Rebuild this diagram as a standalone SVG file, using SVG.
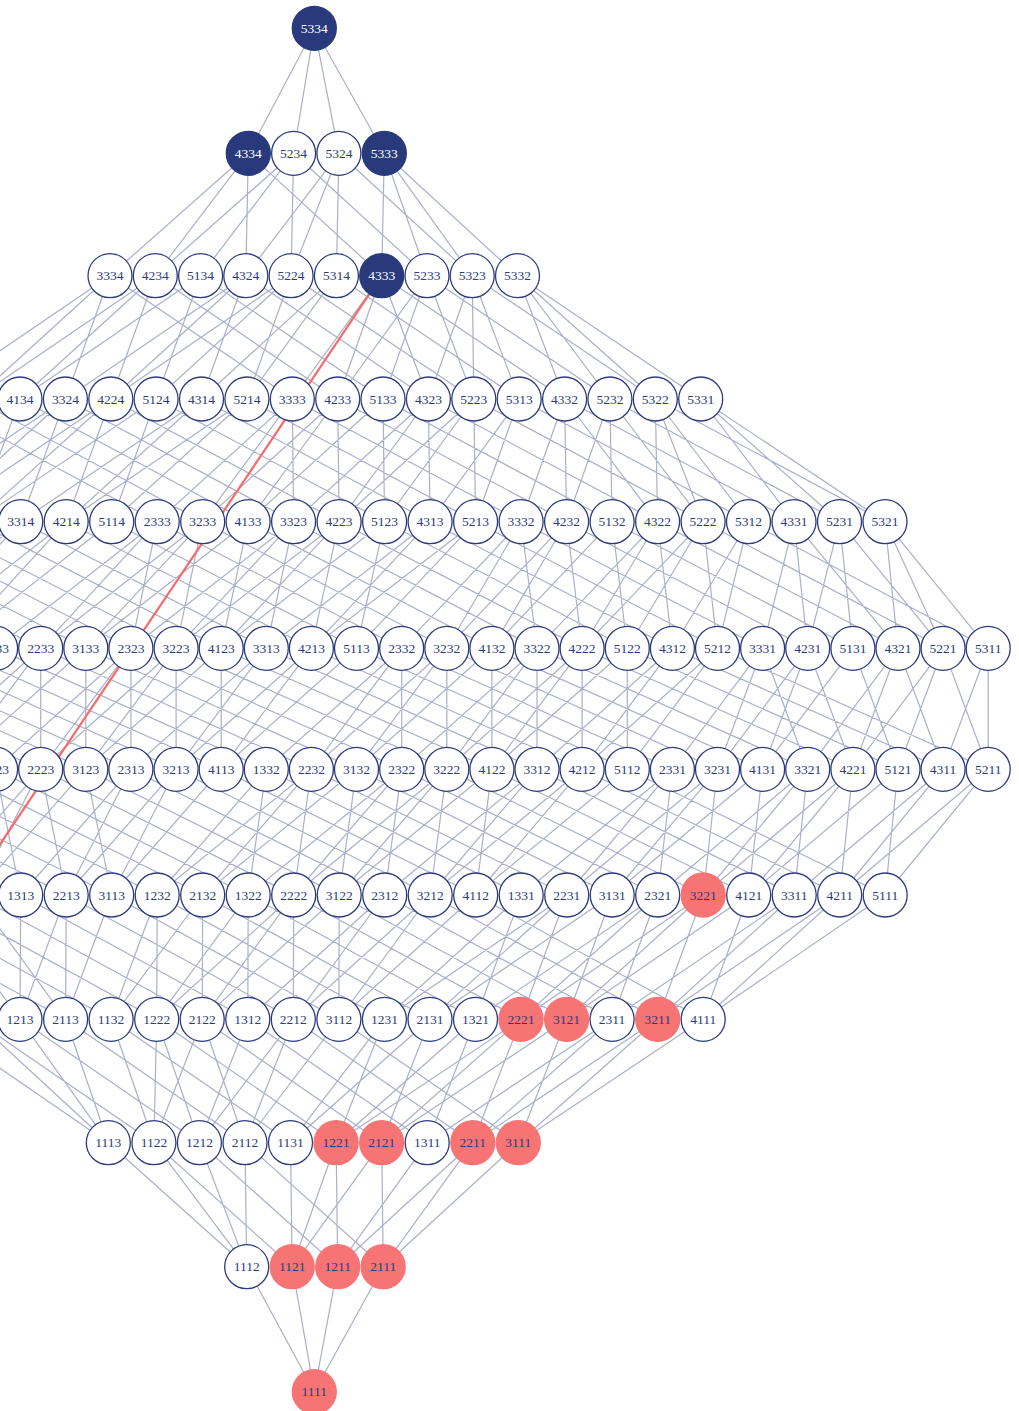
<svg xmlns="http://www.w3.org/2000/svg" width="1019" height="1411" viewBox="0 0 1019 1411">
<style>
.e{fill:none;stroke:#a9b0c9;stroke-width:1.2}
.hl{fill:none;stroke:#f36b6b;stroke-width:2.2}
.n circle{fill:#fff;stroke:#2c3b7d;stroke-width:1.3}
.n text{font-family:"Liberation Serif","DejaVu Serif",serif;font-size:13.5px;fill:#2c3b7d;text-anchor:middle}
.n.d circle{fill:#283a7c;stroke:#283a7c}
.n.d text{fill:#fff}
.n.r circle{fill:#f77474;stroke:#f77474}
</style>
<rect width="1019" height="1411" fill="#fff"/>
<g id="connectors">
<path class="e" d="M314.3 28.3L248.3 153.3M314.3 28.3L293.6 153.3M314.3 28.3L338.9 153.3M314.3 28.3L384.3 153.3"/>
<path class="e" d="M248.3 153.3L110 275.7M248.3 153.3L155.3 275.7M248.3 153.3L245.8 275.7M248.3 153.3L381.7 275.7M293.6 153.3L155.3 275.7M293.6 153.3L200.6 275.7M293.6 153.3L291.1 275.7M293.6 153.3L427 275.7M338.9 153.3L245.8 275.7M338.9 153.3L291.1 275.7M338.9 153.3L336.4 275.7M338.9 153.3L472.2 275.7M384.3 153.3L381.7 275.7M384.3 153.3L427 275.7M384.3 153.3L472.2 275.7M384.3 153.3L517.5 275.7"/>
<path class="e" d="M110 275.7L-70.8 399M110 275.7L-25.4 399M110 275.7L65.4 399M110 275.7L292.3 399M155.3 275.7L-25.4 399M155.3 275.7L20 399M155.3 275.7L110.8 399M155.3 275.7L337.7 399M200.6 275.7L20 399M200.6 275.7L156.1 399M200.6 275.7L383 399M245.8 275.7L65.4 399M245.8 275.7L110.8 399M245.8 275.7L201.5 399M245.8 275.7L428.4 399M291.1 275.7L110.8 399M291.1 275.7L156.1 399M291.1 275.7L246.9 399M291.1 275.7L473.8 399M336.4 275.7L201.5 399M336.4 275.7L246.9 399M336.4 275.7L519.2 399M381.7 275.7L292.3 399M381.7 275.7L337.7 399M381.7 275.7L428.4 399M381.7 275.7L564.6 399M427 275.7L337.7 399M427 275.7L383 399M427 275.7L473.8 399M427 275.7L609.9 399M472.2 275.7L428.4 399M472.2 275.7L473.8 399M472.2 275.7L519.2 399M472.2 275.7L655.3 399M517.5 275.7L564.6 399M517.5 275.7L609.9 399M517.5 275.7L655.3 399M517.5 275.7L700.7 399"/>
<path class="e" d="M-70.8 399L157.2 521.7M-25.4 399L202.7 521.7M20 399L-161.3 521.7M20 399L-24.8 521.7M20 399L248.1 521.7M65.4 399L-115.8 521.7M65.4 399L-70.3 521.7M65.4 399L20.7 521.7M65.4 399L293.6 521.7M110.8 399L-70.3 521.7M110.8 399L-24.8 521.7M110.8 399L66.2 521.7M110.8 399L339.1 521.7M156.1 399L-24.8 521.7M156.1 399L111.7 521.7M156.1 399L384.6 521.7M201.5 399L20.7 521.7M201.5 399L66.2 521.7M201.5 399L430.1 521.7M246.9 399L66.2 521.7M246.9 399L111.7 521.7M246.9 399L475.6 521.7M292.3 399L157.2 521.7M292.3 399L202.7 521.7M292.3 399L293.6 521.7M292.3 399L521.1 521.7M337.7 399L202.7 521.7M337.7 399L248.1 521.7M337.7 399L339.1 521.7M337.7 399L566.6 521.7M383 399L248.1 521.7M383 399L384.6 521.7M383 399L612.1 521.7M428.4 399L293.6 521.7M428.4 399L339.1 521.7M428.4 399L430.1 521.7M428.4 399L657.6 521.7M473.8 399L339.1 521.7M473.8 399L384.6 521.7M473.8 399L475.6 521.7M473.8 399L703.1 521.7M519.2 399L430.1 521.7M519.2 399L475.6 521.7M519.2 399L748.5 521.7M564.6 399L521.1 521.7M564.6 399L566.6 521.7M564.6 399L657.6 521.7M564.6 399L794 521.7M609.9 399L566.6 521.7M609.9 399L612.1 521.7M609.9 399L703.1 521.7M609.9 399L839.5 521.7M655.3 399L657.6 521.7M655.3 399L703.1 521.7M655.3 399L748.5 521.7M655.3 399L885 521.7M700.7 399L794 521.7M700.7 399L839.5 521.7M700.7 399L885 521.7"/>
<path class="e" d="M-206.8 521.7L40.7 648.3M-161.3 521.7L85.8 648.3M-115.8 521.7L130.9 648.3M-70.3 521.7L176.1 648.3M-24.8 521.7L221.2 648.3M20.7 521.7L-139.8 648.3M20.7 521.7L-94.7 648.3M20.7 521.7L266.3 648.3M66.2 521.7L-94.7 648.3M66.2 521.7L-49.5 648.3M66.2 521.7L311.4 648.3M111.7 521.7L-49.5 648.3M111.7 521.7L356.5 648.3M157.2 521.7L-4.4 648.3M157.2 521.7L40.7 648.3M157.2 521.7L130.9 648.3M157.2 521.7L401.7 648.3M202.7 521.7L40.7 648.3M202.7 521.7L85.8 648.3M202.7 521.7L176.1 648.3M202.7 521.7L446.8 648.3M248.1 521.7L85.8 648.3M248.1 521.7L221.2 648.3M248.1 521.7L491.9 648.3M293.6 521.7L130.9 648.3M293.6 521.7L176.1 648.3M293.6 521.7L266.3 648.3M293.6 521.7L537 648.3M339.1 521.7L176.1 648.3M339.1 521.7L221.2 648.3M339.1 521.7L311.4 648.3M339.1 521.7L582.1 648.3M384.6 521.7L221.2 648.3M384.6 521.7L356.5 648.3M384.6 521.7L627.3 648.3M430.1 521.7L266.3 648.3M430.1 521.7L311.4 648.3M430.1 521.7L672.4 648.3M475.6 521.7L311.4 648.3M475.6 521.7L356.5 648.3M475.6 521.7L717.5 648.3M521.1 521.7L401.7 648.3M521.1 521.7L446.8 648.3M521.1 521.7L537 648.3M521.1 521.7L762.6 648.3M566.6 521.7L446.8 648.3M566.6 521.7L491.9 648.3M566.6 521.7L582.1 648.3M566.6 521.7L807.7 648.3M612.1 521.7L491.9 648.3M612.1 521.7L627.3 648.3M612.1 521.7L852.9 648.3M657.6 521.7L537 648.3M657.6 521.7L582.1 648.3M657.6 521.7L672.4 648.3M657.6 521.7L898 648.3M703.1 521.7L582.1 648.3M703.1 521.7L627.3 648.3M703.1 521.7L717.5 648.3M703.1 521.7L943.1 648.3M748.5 521.7L672.4 648.3M748.5 521.7L717.5 648.3M748.5 521.7L988.2 648.3M794 521.7L762.6 648.3M794 521.7L807.7 648.3M794 521.7L898 648.3M839.5 521.7L807.7 648.3M839.5 521.7L852.9 648.3M839.5 521.7L943.1 648.3M885 521.7L898 648.3M885 521.7L943.1 648.3M885 521.7L988.2 648.3"/>
<path class="e" d="M-230 648.3L40.7 769.3M-184.9 648.3L85.8 769.3M-139.8 648.3L130.9 769.3M-94.7 648.3L176.1 769.3M-49.5 648.3L221.2 769.3M-4.4 648.3L266.3 769.3M40.7 648.3L-94.7 769.3M40.7 648.3L-49.5 769.3M40.7 648.3L40.7 769.3M40.7 648.3L311.4 769.3M85.8 648.3L-49.5 769.3M85.8 648.3L85.8 769.3M85.8 648.3L356.5 769.3M130.9 648.3L-4.4 769.3M130.9 648.3L40.7 769.3M130.9 648.3L130.9 769.3M130.9 648.3L401.7 769.3M176.1 648.3L40.7 769.3M176.1 648.3L85.8 769.3M176.1 648.3L176.1 769.3M176.1 648.3L446.8 769.3M221.2 648.3L85.8 769.3M221.2 648.3L221.2 769.3M221.2 648.3L491.9 769.3M266.3 648.3L130.9 769.3M266.3 648.3L176.1 769.3M266.3 648.3L537 769.3M311.4 648.3L176.1 769.3M311.4 648.3L221.2 769.3M311.4 648.3L582.1 769.3M356.5 648.3L221.2 769.3M356.5 648.3L627.3 769.3M401.7 648.3L266.3 769.3M401.7 648.3L311.4 769.3M401.7 648.3L401.7 769.3M401.7 648.3L672.4 769.3M446.8 648.3L311.4 769.3M446.8 648.3L356.5 769.3M446.8 648.3L446.8 769.3M446.8 648.3L717.5 769.3M491.9 648.3L356.5 769.3M491.9 648.3L491.9 769.3M491.9 648.3L762.6 769.3M537 648.3L401.7 769.3M537 648.3L446.8 769.3M537 648.3L537 769.3M537 648.3L807.7 769.3M582.1 648.3L446.8 769.3M582.1 648.3L491.9 769.3M582.1 648.3L582.1 769.3M582.1 648.3L852.9 769.3M627.3 648.3L491.9 769.3M627.3 648.3L627.3 769.3M627.3 648.3L898 769.3M672.4 648.3L537 769.3M672.4 648.3L582.1 769.3M672.4 648.3L943.1 769.3M717.5 648.3L582.1 769.3M717.5 648.3L627.3 769.3M717.5 648.3L988.2 769.3M762.6 648.3L672.4 769.3M762.6 648.3L717.5 769.3M762.6 648.3L807.7 769.3M807.7 648.3L717.5 769.3M807.7 648.3L762.6 769.3M807.7 648.3L852.9 769.3M852.9 648.3L762.6 769.3M852.9 648.3L898 769.3M898 648.3L807.7 769.3M898 648.3L852.9 769.3M898 648.3L943.1 769.3M943.1 648.3L852.9 769.3M943.1 648.3L898 769.3M943.1 648.3L988.2 769.3M988.2 648.3L943.1 769.3M988.2 648.3L988.2 769.3"/>
<path class="e" d="M-230 769.3L20.7 895M-184.9 769.3L66.2 895M-139.8 769.3L111.7 895M-94.7 769.3L157.2 895M-49.5 769.3L202.7 895M-4.4 769.3L20.7 895M-4.4 769.3L248.2 895M40.7 769.3L-70.3 895M40.7 769.3L-24.8 895M40.7 769.3L66.2 895M40.7 769.3L293.7 895M85.8 769.3L-24.8 895M85.8 769.3L111.7 895M85.8 769.3L339.2 895M130.9 769.3L20.7 895M130.9 769.3L66.2 895M130.9 769.3L384.7 895M176.1 769.3L66.2 895M176.1 769.3L111.7 895M176.1 769.3L430.2 895M221.2 769.3L111.7 895M221.2 769.3L475.7 895M266.3 769.3L157.2 895M266.3 769.3L248.2 895M266.3 769.3L521.2 895M311.4 769.3L157.2 895M311.4 769.3L202.7 895M311.4 769.3L293.7 895M311.4 769.3L566.7 895M356.5 769.3L202.7 895M356.5 769.3L339.2 895M356.5 769.3L612.2 895M401.7 769.3L248.2 895M401.7 769.3L293.7 895M401.7 769.3L384.7 895M401.7 769.3L657.7 895M446.8 769.3L293.7 895M446.8 769.3L339.2 895M446.8 769.3L430.2 895M446.8 769.3L703.2 895M491.9 769.3L339.2 895M491.9 769.3L475.7 895M491.9 769.3L748.7 895M537 769.3L384.7 895M537 769.3L430.2 895M537 769.3L794.2 895M582.1 769.3L430.2 895M582.1 769.3L475.7 895M582.1 769.3L839.7 895M627.3 769.3L475.7 895M627.3 769.3L885.2 895M672.4 769.3L521.2 895M672.4 769.3L566.7 895M672.4 769.3L657.7 895M717.5 769.3L566.7 895M717.5 769.3L612.2 895M717.5 769.3L703.2 895M762.6 769.3L612.2 895M762.6 769.3L748.7 895M807.7 769.3L657.7 895M807.7 769.3L703.2 895M807.7 769.3L794.2 895M852.9 769.3L703.2 895M852.9 769.3L748.7 895M852.9 769.3L839.7 895M898 769.3L748.7 895M898 769.3L885.2 895M943.1 769.3L794.2 895M943.1 769.3L839.7 895M988.2 769.3L839.7 895M988.2 769.3L885.2 895"/>
<path class="e" d="M-206.8 895L20 1019.3M-161.3 895L65.6 1019.3M-115.8 895L111.1 1019.3M-70.3 895L20 1019.3M-70.3 895L156.7 1019.3M-24.8 895L65.6 1019.3M-24.8 895L202.2 1019.3M20.7 895L20 1019.3M20.7 895L247.8 1019.3M66.2 895L20 1019.3M66.2 895L65.6 1019.3M66.2 895L293.3 1019.3M111.7 895L65.6 1019.3M111.7 895L338.9 1019.3M157.2 895L111.1 1019.3M157.2 895L156.7 1019.3M157.2 895L384.4 1019.3M202.7 895L111.1 1019.3M202.7 895L202.2 1019.3M202.7 895L430 1019.3M248.2 895L156.7 1019.3M248.2 895L247.8 1019.3M248.2 895L475.5 1019.3M293.7 895L156.7 1019.3M293.7 895L202.2 1019.3M293.7 895L293.3 1019.3M293.7 895L521 1019.3M339.2 895L202.2 1019.3M339.2 895L338.9 1019.3M339.2 895L566.6 1019.3M384.7 895L247.8 1019.3M384.7 895L293.3 1019.3M384.7 895L612.1 1019.3M430.2 895L293.3 1019.3M430.2 895L338.9 1019.3M430.2 895L657.7 1019.3M475.7 895L338.9 1019.3M475.7 895L703.2 1019.3M521.2 895L384.4 1019.3M521.2 895L475.5 1019.3M566.7 895L384.4 1019.3M566.7 895L430 1019.3M566.7 895L521 1019.3M612.2 895L430 1019.3M612.2 895L566.6 1019.3M657.7 895L475.5 1019.3M657.7 895L521 1019.3M657.7 895L612.1 1019.3M703.2 895L521 1019.3M703.2 895L566.6 1019.3M703.2 895L657.7 1019.3M748.7 895L566.6 1019.3M748.7 895L703.2 1019.3M794.2 895L612.1 1019.3M794.2 895L657.7 1019.3M839.7 895L657.7 1019.3M839.7 895L703.2 1019.3M885.2 895L703.2 1019.3"/>
<path class="e" d="M-71.1 1019.3L108.3 1142.7M-25.6 1019.3L108.3 1142.7M-25.6 1019.3L153.9 1142.7M20 1019.3L108.3 1142.7M20 1019.3L199.4 1142.7M65.6 1019.3L108.3 1142.7M65.6 1019.3L245 1142.7M111.1 1019.3L153.9 1142.7M111.1 1019.3L290.5 1142.7M156.7 1019.3L153.9 1142.7M156.7 1019.3L199.4 1142.7M156.7 1019.3L336.1 1142.7M202.2 1019.3L153.9 1142.7M202.2 1019.3L245 1142.7M202.2 1019.3L381.7 1142.7M247.8 1019.3L199.4 1142.7M247.8 1019.3L427.2 1142.7M293.3 1019.3L199.4 1142.7M293.3 1019.3L245 1142.7M293.3 1019.3L472.8 1142.7M338.9 1019.3L245 1142.7M338.9 1019.3L518.3 1142.7M384.4 1019.3L290.5 1142.7M384.4 1019.3L336.1 1142.7M430 1019.3L290.5 1142.7M430 1019.3L381.7 1142.7M475.5 1019.3L336.1 1142.7M475.5 1019.3L427.2 1142.7M521 1019.3L336.1 1142.7M521 1019.3L381.7 1142.7M521 1019.3L472.8 1142.7M566.6 1019.3L381.7 1142.7M566.6 1019.3L518.3 1142.7M612.1 1019.3L427.2 1142.7M612.1 1019.3L472.8 1142.7M657.7 1019.3L472.8 1142.7M657.7 1019.3L518.3 1142.7M703.2 1019.3L518.3 1142.7"/>
<path class="e" d="M108.3 1142.7L246.7 1266.7M153.9 1142.7L246.7 1266.7M153.9 1142.7L292.2 1266.7M199.4 1142.7L246.7 1266.7M199.4 1142.7L337.7 1266.7M245 1142.7L246.7 1266.7M245 1142.7L383.2 1266.7M290.5 1142.7L292.2 1266.7M336.1 1142.7L292.2 1266.7M336.1 1142.7L337.7 1266.7M381.7 1142.7L292.2 1266.7M381.7 1142.7L383.2 1266.7M427.2 1142.7L337.7 1266.7M472.8 1142.7L337.7 1266.7M472.8 1142.7L383.2 1266.7M518.3 1142.7L383.2 1266.7"/>
<path class="e" d="M246.7 1266.7L314.3 1391.7M292.2 1266.7L314.3 1391.7M337.7 1266.7L314.3 1391.7M383.2 1266.7L314.3 1391.7"/>
<path class="hl" d="M381.7 275.7L-34 895"/>
</g>
<g id="nodes">
<g id="n5334" class="n d" transform="translate(314.3 28.3)"><circle r="22"/><text y="4.6">5334</text></g>
<g id="n4334" class="n d" transform="translate(248.3 153.3)"><circle r="22"/><text y="4.6">4334</text></g>
<g id="n5234" class="n" transform="translate(293.6 153.3)"><circle r="22"/><text y="4.6">5234</text></g>
<g id="n5324" class="n" transform="translate(338.9 153.3)"><circle r="22"/><text y="4.6">5324</text></g>
<g id="n5333" class="n d" transform="translate(384.3 153.3)"><circle r="22"/><text y="4.6">5333</text></g>
<g id="n3334" class="n" transform="translate(110 275.7)"><circle r="22"/><text y="4.6">3334</text></g>
<g id="n4234" class="n" transform="translate(155.3 275.7)"><circle r="22"/><text y="4.6">4234</text></g>
<g id="n5134" class="n" transform="translate(200.6 275.7)"><circle r="22"/><text y="4.6">5134</text></g>
<g id="n4324" class="n" transform="translate(245.8 275.7)"><circle r="22"/><text y="4.6">4324</text></g>
<g id="n5224" class="n" transform="translate(291.1 275.7)"><circle r="22"/><text y="4.6">5224</text></g>
<g id="n5314" class="n" transform="translate(336.4 275.7)"><circle r="22"/><text y="4.6">5314</text></g>
<g id="n4333" class="n d" transform="translate(381.7 275.7)"><circle r="22"/><text y="4.6">4333</text></g>
<g id="n5233" class="n" transform="translate(427 275.7)"><circle r="22"/><text y="4.6">5233</text></g>
<g id="n5323" class="n" transform="translate(472.2 275.7)"><circle r="22"/><text y="4.6">5323</text></g>
<g id="n5332" class="n" transform="translate(517.5 275.7)"><circle r="22"/><text y="4.6">5332</text></g>
<g id="n4134" class="n" transform="translate(20 399)"><circle r="22"/><text y="4.6">4134</text></g>
<g id="n3324" class="n" transform="translate(65.4 399)"><circle r="22"/><text y="4.6">3324</text></g>
<g id="n4224" class="n" transform="translate(110.8 399)"><circle r="22"/><text y="4.6">4224</text></g>
<g id="n5124" class="n" transform="translate(156.1 399)"><circle r="22"/><text y="4.6">5124</text></g>
<g id="n4314" class="n" transform="translate(201.5 399)"><circle r="22"/><text y="4.6">4314</text></g>
<g id="n5214" class="n" transform="translate(246.9 399)"><circle r="22"/><text y="4.6">5214</text></g>
<g id="n3333" class="n" transform="translate(292.3 399)"><circle r="22"/><text y="4.6">3333</text></g>
<g id="n4233" class="n" transform="translate(337.7 399)"><circle r="22"/><text y="4.6">4233</text></g>
<g id="n5133" class="n" transform="translate(383 399)"><circle r="22"/><text y="4.6">5133</text></g>
<g id="n4323" class="n" transform="translate(428.4 399)"><circle r="22"/><text y="4.6">4323</text></g>
<g id="n5223" class="n" transform="translate(473.8 399)"><circle r="22"/><text y="4.6">5223</text></g>
<g id="n5313" class="n" transform="translate(519.2 399)"><circle r="22"/><text y="4.6">5313</text></g>
<g id="n4332" class="n" transform="translate(564.6 399)"><circle r="22"/><text y="4.6">4332</text></g>
<g id="n5232" class="n" transform="translate(609.9 399)"><circle r="22"/><text y="4.6">5232</text></g>
<g id="n5322" class="n" transform="translate(655.3 399)"><circle r="22"/><text y="4.6">5322</text></g>
<g id="n5331" class="n" transform="translate(700.7 399)"><circle r="22"/><text y="4.6">5331</text></g>
<g id="n3314" class="n" transform="translate(20.7 521.7)"><circle r="22"/><text y="4.6">3314</text></g>
<g id="n4214" class="n" transform="translate(66.2 521.7)"><circle r="22"/><text y="4.6">4214</text></g>
<g id="n5114" class="n" transform="translate(111.7 521.7)"><circle r="22"/><text y="4.6">5114</text></g>
<g id="n2333" class="n" transform="translate(157.2 521.7)"><circle r="22"/><text y="4.6">2333</text></g>
<g id="n3233" class="n" transform="translate(202.7 521.7)"><circle r="22"/><text y="4.6">3233</text></g>
<g id="n4133" class="n" transform="translate(248.1 521.7)"><circle r="22"/><text y="4.6">4133</text></g>
<g id="n3323" class="n" transform="translate(293.6 521.7)"><circle r="22"/><text y="4.6">3323</text></g>
<g id="n4223" class="n" transform="translate(339.1 521.7)"><circle r="22"/><text y="4.6">4223</text></g>
<g id="n5123" class="n" transform="translate(384.6 521.7)"><circle r="22"/><text y="4.6">5123</text></g>
<g id="n4313" class="n" transform="translate(430.1 521.7)"><circle r="22"/><text y="4.6">4313</text></g>
<g id="n5213" class="n" transform="translate(475.6 521.7)"><circle r="22"/><text y="4.6">5213</text></g>
<g id="n3332" class="n" transform="translate(521.1 521.7)"><circle r="22"/><text y="4.6">3332</text></g>
<g id="n4232" class="n" transform="translate(566.6 521.7)"><circle r="22"/><text y="4.6">4232</text></g>
<g id="n5132" class="n" transform="translate(612.1 521.7)"><circle r="22"/><text y="4.6">5132</text></g>
<g id="n4322" class="n" transform="translate(657.6 521.7)"><circle r="22"/><text y="4.6">4322</text></g>
<g id="n5222" class="n" transform="translate(703.1 521.7)"><circle r="22"/><text y="4.6">5222</text></g>
<g id="n5312" class="n" transform="translate(748.5 521.7)"><circle r="22"/><text y="4.6">5312</text></g>
<g id="n4331" class="n" transform="translate(794 521.7)"><circle r="22"/><text y="4.6">4331</text></g>
<g id="n5231" class="n" transform="translate(839.5 521.7)"><circle r="22"/><text y="4.6">5231</text></g>
<g id="n5321" class="n" transform="translate(885 521.7)"><circle r="22"/><text y="4.6">5321</text></g>
<g id="n1333" class="n" transform="translate(-4.4 648.3)"><circle r="22"/><text y="4.6">1333</text></g>
<g id="n2233" class="n" transform="translate(40.7 648.3)"><circle r="22"/><text y="4.6">2233</text></g>
<g id="n3133" class="n" transform="translate(85.8 648.3)"><circle r="22"/><text y="4.6">3133</text></g>
<g id="n2323" class="n" transform="translate(130.9 648.3)"><circle r="22"/><text y="4.6">2323</text></g>
<g id="n3223" class="n" transform="translate(176.1 648.3)"><circle r="22"/><text y="4.6">3223</text></g>
<g id="n4123" class="n" transform="translate(221.2 648.3)"><circle r="22"/><text y="4.6">4123</text></g>
<g id="n3313" class="n" transform="translate(266.3 648.3)"><circle r="22"/><text y="4.6">3313</text></g>
<g id="n4213" class="n" transform="translate(311.4 648.3)"><circle r="22"/><text y="4.6">4213</text></g>
<g id="n5113" class="n" transform="translate(356.5 648.3)"><circle r="22"/><text y="4.6">5113</text></g>
<g id="n2332" class="n" transform="translate(401.7 648.3)"><circle r="22"/><text y="4.6">2332</text></g>
<g id="n3232" class="n" transform="translate(446.8 648.3)"><circle r="22"/><text y="4.6">3232</text></g>
<g id="n4132" class="n" transform="translate(491.9 648.3)"><circle r="22"/><text y="4.6">4132</text></g>
<g id="n3322" class="n" transform="translate(537 648.3)"><circle r="22"/><text y="4.6">3322</text></g>
<g id="n4222" class="n" transform="translate(582.1 648.3)"><circle r="22"/><text y="4.6">4222</text></g>
<g id="n5122" class="n" transform="translate(627.3 648.3)"><circle r="22"/><text y="4.6">5122</text></g>
<g id="n4312" class="n" transform="translate(672.4 648.3)"><circle r="22"/><text y="4.6">4312</text></g>
<g id="n5212" class="n" transform="translate(717.5 648.3)"><circle r="22"/><text y="4.6">5212</text></g>
<g id="n3331" class="n" transform="translate(762.6 648.3)"><circle r="22"/><text y="4.6">3331</text></g>
<g id="n4231" class="n" transform="translate(807.7 648.3)"><circle r="22"/><text y="4.6">4231</text></g>
<g id="n5131" class="n" transform="translate(852.9 648.3)"><circle r="22"/><text y="4.6">5131</text></g>
<g id="n4321" class="n" transform="translate(898 648.3)"><circle r="22"/><text y="4.6">4321</text></g>
<g id="n5221" class="n" transform="translate(943.1 648.3)"><circle r="22"/><text y="4.6">5221</text></g>
<g id="n5311" class="n" transform="translate(988.2 648.3)"><circle r="22"/><text y="4.6">5311</text></g>
<g id="n1323" class="n" transform="translate(-4.4 769.3)"><circle r="22"/><text y="4.6">1323</text></g>
<g id="n2223" class="n" transform="translate(40.7 769.3)"><circle r="22"/><text y="4.6">2223</text></g>
<g id="n3123" class="n" transform="translate(85.8 769.3)"><circle r="22"/><text y="4.6">3123</text></g>
<g id="n2313" class="n" transform="translate(130.9 769.3)"><circle r="22"/><text y="4.6">2313</text></g>
<g id="n3213" class="n" transform="translate(176.1 769.3)"><circle r="22"/><text y="4.6">3213</text></g>
<g id="n4113" class="n" transform="translate(221.2 769.3)"><circle r="22"/><text y="4.6">4113</text></g>
<g id="n1332" class="n" transform="translate(266.3 769.3)"><circle r="22"/><text y="4.6">1332</text></g>
<g id="n2232" class="n" transform="translate(311.4 769.3)"><circle r="22"/><text y="4.6">2232</text></g>
<g id="n3132" class="n" transform="translate(356.5 769.3)"><circle r="22"/><text y="4.6">3132</text></g>
<g id="n2322" class="n" transform="translate(401.7 769.3)"><circle r="22"/><text y="4.6">2322</text></g>
<g id="n3222" class="n" transform="translate(446.8 769.3)"><circle r="22"/><text y="4.6">3222</text></g>
<g id="n4122" class="n" transform="translate(491.9 769.3)"><circle r="22"/><text y="4.6">4122</text></g>
<g id="n3312" class="n" transform="translate(537 769.3)"><circle r="22"/><text y="4.6">3312</text></g>
<g id="n4212" class="n" transform="translate(582.1 769.3)"><circle r="22"/><text y="4.6">4212</text></g>
<g id="n5112" class="n" transform="translate(627.3 769.3)"><circle r="22"/><text y="4.6">5112</text></g>
<g id="n2331" class="n" transform="translate(672.4 769.3)"><circle r="22"/><text y="4.6">2331</text></g>
<g id="n3231" class="n" transform="translate(717.5 769.3)"><circle r="22"/><text y="4.6">3231</text></g>
<g id="n4131" class="n" transform="translate(762.6 769.3)"><circle r="22"/><text y="4.6">4131</text></g>
<g id="n3321" class="n" transform="translate(807.7 769.3)"><circle r="22"/><text y="4.6">3321</text></g>
<g id="n4221" class="n" transform="translate(852.9 769.3)"><circle r="22"/><text y="4.6">4221</text></g>
<g id="n5121" class="n" transform="translate(898 769.3)"><circle r="22"/><text y="4.6">5121</text></g>
<g id="n4311" class="n" transform="translate(943.1 769.3)"><circle r="22"/><text y="4.6">4311</text></g>
<g id="n5211" class="n" transform="translate(988.2 769.3)"><circle r="22"/><text y="4.6">5211</text></g>
<g id="n1313" class="n" transform="translate(20.7 895)"><circle r="22"/><text y="4.6">1313</text></g>
<g id="n2213" class="n" transform="translate(66.2 895)"><circle r="22"/><text y="4.6">2213</text></g>
<g id="n3113" class="n" transform="translate(111.7 895)"><circle r="22"/><text y="4.6">3113</text></g>
<g id="n1232" class="n" transform="translate(157.2 895)"><circle r="22"/><text y="4.6">1232</text></g>
<g id="n2132" class="n" transform="translate(202.7 895)"><circle r="22"/><text y="4.6">2132</text></g>
<g id="n1322" class="n" transform="translate(248.2 895)"><circle r="22"/><text y="4.6">1322</text></g>
<g id="n2222" class="n" transform="translate(293.7 895)"><circle r="22"/><text y="4.6">2222</text></g>
<g id="n3122" class="n" transform="translate(339.2 895)"><circle r="22"/><text y="4.6">3122</text></g>
<g id="n2312" class="n" transform="translate(384.7 895)"><circle r="22"/><text y="4.6">2312</text></g>
<g id="n3212" class="n" transform="translate(430.2 895)"><circle r="22"/><text y="4.6">3212</text></g>
<g id="n4112" class="n" transform="translate(475.7 895)"><circle r="22"/><text y="4.6">4112</text></g>
<g id="n1331" class="n" transform="translate(521.2 895)"><circle r="22"/><text y="4.6">1331</text></g>
<g id="n2231" class="n" transform="translate(566.7 895)"><circle r="22"/><text y="4.6">2231</text></g>
<g id="n3131" class="n" transform="translate(612.2 895)"><circle r="22"/><text y="4.6">3131</text></g>
<g id="n2321" class="n" transform="translate(657.7 895)"><circle r="22"/><text y="4.6">2321</text></g>
<g id="n3221" class="n r" transform="translate(703.2 895)"><circle r="22"/><text y="4.6">3221</text></g>
<g id="n4121" class="n" transform="translate(748.7 895)"><circle r="22"/><text y="4.6">4121</text></g>
<g id="n3311" class="n" transform="translate(794.2 895)"><circle r="22"/><text y="4.6">3311</text></g>
<g id="n4211" class="n" transform="translate(839.7 895)"><circle r="22"/><text y="4.6">4211</text></g>
<g id="n5111" class="n" transform="translate(885.2 895)"><circle r="22"/><text y="4.6">5111</text></g>
<g id="n1213" class="n" transform="translate(20 1019.3)"><circle r="22"/><text y="4.6">1213</text></g>
<g id="n2113" class="n" transform="translate(65.6 1019.3)"><circle r="22"/><text y="4.6">2113</text></g>
<g id="n1132" class="n" transform="translate(111.1 1019.3)"><circle r="22"/><text y="4.6">1132</text></g>
<g id="n1222" class="n" transform="translate(156.7 1019.3)"><circle r="22"/><text y="4.6">1222</text></g>
<g id="n2122" class="n" transform="translate(202.2 1019.3)"><circle r="22"/><text y="4.6">2122</text></g>
<g id="n1312" class="n" transform="translate(247.8 1019.3)"><circle r="22"/><text y="4.6">1312</text></g>
<g id="n2212" class="n" transform="translate(293.3 1019.3)"><circle r="22"/><text y="4.6">2212</text></g>
<g id="n3112" class="n" transform="translate(338.9 1019.3)"><circle r="22"/><text y="4.6">3112</text></g>
<g id="n1231" class="n" transform="translate(384.4 1019.3)"><circle r="22"/><text y="4.6">1231</text></g>
<g id="n2131" class="n" transform="translate(430 1019.3)"><circle r="22"/><text y="4.6">2131</text></g>
<g id="n1321" class="n" transform="translate(475.5 1019.3)"><circle r="22"/><text y="4.6">1321</text></g>
<g id="n2221" class="n r" transform="translate(521 1019.3)"><circle r="22"/><text y="4.6">2221</text></g>
<g id="n3121" class="n r" transform="translate(566.6 1019.3)"><circle r="22"/><text y="4.6">3121</text></g>
<g id="n2311" class="n" transform="translate(612.1 1019.3)"><circle r="22"/><text y="4.6">2311</text></g>
<g id="n3211" class="n r" transform="translate(657.7 1019.3)"><circle r="22"/><text y="4.6">3211</text></g>
<g id="n4111" class="n" transform="translate(703.2 1019.3)"><circle r="22"/><text y="4.6">4111</text></g>
<g id="n1113" class="n" transform="translate(108.3 1142.7)"><circle r="22"/><text y="4.6">1113</text></g>
<g id="n1122" class="n" transform="translate(153.9 1142.7)"><circle r="22"/><text y="4.6">1122</text></g>
<g id="n1212" class="n" transform="translate(199.4 1142.7)"><circle r="22"/><text y="4.6">1212</text></g>
<g id="n2112" class="n" transform="translate(245 1142.7)"><circle r="22"/><text y="4.6">2112</text></g>
<g id="n1131" class="n" transform="translate(290.5 1142.7)"><circle r="22"/><text y="4.6">1131</text></g>
<g id="n1221" class="n r" transform="translate(336.1 1142.7)"><circle r="22"/><text y="4.6">1221</text></g>
<g id="n2121" class="n r" transform="translate(381.7 1142.7)"><circle r="22"/><text y="4.6">2121</text></g>
<g id="n1311" class="n" transform="translate(427.2 1142.7)"><circle r="22"/><text y="4.6">1311</text></g>
<g id="n2211" class="n r" transform="translate(472.8 1142.7)"><circle r="22"/><text y="4.6">2211</text></g>
<g id="n3111" class="n r" transform="translate(518.3 1142.7)"><circle r="22"/><text y="4.6">3111</text></g>
<g id="n1112" class="n" transform="translate(246.7 1266.7)"><circle r="22"/><text y="4.6">1112</text></g>
<g id="n1121" class="n r" transform="translate(292.2 1266.7)"><circle r="22"/><text y="4.6">1121</text></g>
<g id="n1211" class="n r" transform="translate(337.7 1266.7)"><circle r="22"/><text y="4.6">1211</text></g>
<g id="n2111" class="n r" transform="translate(383.2 1266.7)"><circle r="22"/><text y="4.6">2111</text></g>
<g id="n1111" class="n r" transform="translate(314.3 1391.7)"><circle r="22"/><text y="4.6">1111</text></g>
</g>
</svg>
